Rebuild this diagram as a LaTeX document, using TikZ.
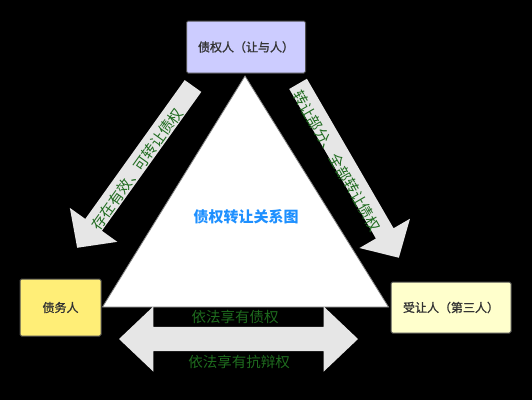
\documentclass[tikz,border=0pt]{standalone}
\usepackage{fontspec}
\setmainfont{Noto Sans CJK SC}
\newfontfamily\partyfont{Noto Sans CJK SC}[FakeBold=1.2]
\usetikzlibrary{shapes.arrows}
\definecolor{boxedge}{HTML}{4D4D4D}
\definecolor{boxtext}{HTML}{333333}
\definecolor{arrowgray}{HTML}{E6E6E6}
\definecolor{labelgreen}{HTML}{1E6B1E}
\definecolor{titleblue}{HTML}{1E90FF}
\definecolor{creditorfill}{HTML}{CCCCFF}
\definecolor{debtorfill}{HTML}{FFEE77}
\definecolor{assigneefill}{HTML}{FFFFCC}

\begin{document}
\begin{tikzpicture}[x=1pt, y=-1pt,
	party/.style={draw=boxedge, line width=1pt, rounded corners=1.5pt, text=boxtext, font=\partyfont\fontsize{12}{14}\selectfont, inner sep=0pt},
	flow/.style={single arrow, anchor=tip, fill=arrowgray, inner xsep=0pt, inner ysep=10pt, text height=0pt, text depth=0pt, single arrow head extend=19pt, single arrow tip angle=92, minimum width=0pt},
	lbl/.style={text=labelgreen, font=\fontsize{14.5}{16}\selectfont, inner sep=0pt}]
% background
	\useasboundingbox (0,0) rectangle (532,400);
	\fill[black] (0,0) rectangle (532,400);
% middle triangle
	\draw[fill=white, draw=gray, line width=.8pt] (245,76) -- (102.5,307) -- (388.5,307) -- cycle;
	\node[font=\bfseries\fontsize{15}{18}\selectfont, text=titleblue] (title) at (246,217) {债权转让关系图};
% block arrows, placed by their tips
	\node[flow, shape border rotate=180, rotate=54.4, minimum height=199pt] (toDebtor) at (77,248) {};
	\node[flow, rotate=-59.9, minimum height=201pt] (toAssignee) at (399,258) {};
	\node[double arrow, fill=arrowgray, inner xsep=0pt, inner ysep=12pt, text height=0pt, text depth=0pt,
		double arrow head extend=20.5pt, double arrow tip angle=87, minimum height=239pt, minimum width=0pt] (rights) at (238.5,339) {};
	\node[lbl, rotate=54.4] (toDebtorText) at (137,169) {存在有效、可转让债权};
	\node[lbl, rotate=-59.9] (toAssigneeText) at (337,161) {转让部分、全部转让债权};
	\node[lbl] (rightsUp) at (235,317) {依法享有债权};
	\node[lbl] (rightsDown) at (239,362) {依法享有抗辩权};
% parties
	\node[party, fill=creditorfill, minimum width=119pt, minimum height=52pt] (creditor) at (246,47) {债权人（让与人）};
	\node[party, fill=debtorfill, minimum width=81pt, minimum height=57pt] (debtor) at (60.5,307.5) {债务人};
	\node[party, fill=assigneefill, minimum width=120pt, minimum height=51pt] (assignee) at (451,307.5) {受让人（第三人）};
\end{tikzpicture}
\end{document}
